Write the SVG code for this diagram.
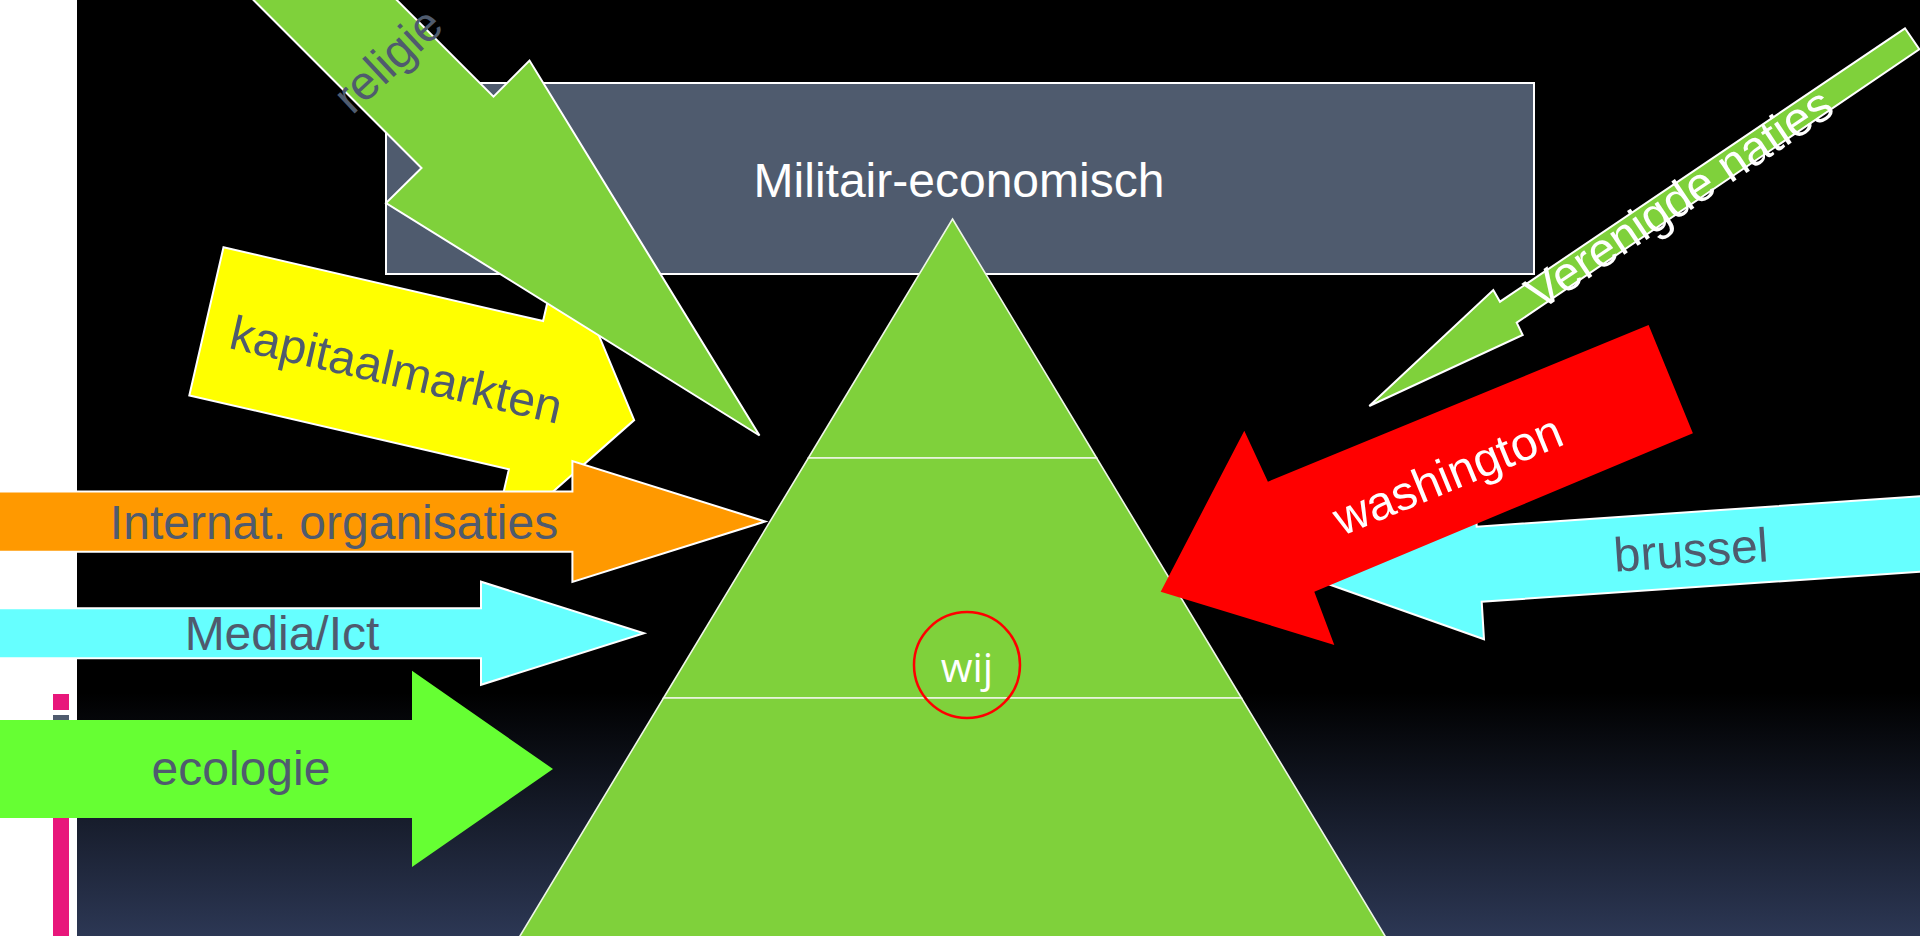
<svg xmlns="http://www.w3.org/2000/svg" width="1920" height="936" viewBox="0 0 1920 936">
  <defs>
    <linearGradient id="bg" x1="0" y1="0" x2="0" y2="936" gradientUnits="userSpaceOnUse">
      <stop offset="0" stop-color="#000000"/>
      <stop offset="0.74" stop-color="#000000"/>
      <stop offset="1" stop-color="#2c3754"/>
    </linearGradient>
    <style>
      .lbl { font-family: "Liberation Sans", Arial, sans-serif; font-size: 48px; text-anchor: middle; }
      .gray { fill: #4f5b6e; }
      .white { fill: #ffffff; }
      .edge { stroke: #ffffff; stroke-width: 2; stroke-linejoin: miter; }
      .pyr { fill: #7fd13b; stroke: #eef6e6; stroke-width: 1.6; }
    </style>
  </defs>

  <g id="background">
    <rect x="0" y="0" width="1920" height="936" fill="#ffffff"/>
    <rect x="77" y="0" width="1843" height="936" fill="url(#bg)"/>
    <rect x="53" y="694" width="16" height="16" fill="#e8177b"/>
    <rect x="53" y="715" width="16" height="50" fill="#4f5b6e"/>
    <rect x="53" y="770" width="16" height="166" fill="#e8177b"/>
  </g>

  <g id="militair">
    <rect x="386" y="83" width="1148" height="191" fill="#4f5b6e" class="edge"/>
    <text class="lbl white" x="959" y="197">Militair-economisch</text>
  </g>

  <g id="pyramid">
    <polygon class="pyr" points="952.5,219 1096.7,458 808.3,458"/>
    <polygon class="pyr" points="808.3,458 1096.7,458 1241.5,698 663.5,698"/>
    <polygon class="pyr" points="663.5,698 1241.5,698 1393.5,950 511.5,950"/>
  </g>

  <g id="wij">
    <circle cx="967" cy="665" r="53" fill="none" stroke="#ff0000" stroke-width="2.5"/>
    <text x="967" y="682" font-family="'Open Sans', 'Liberation Sans', sans-serif" font-size="41" text-anchor="middle" fill="#ffffff">wij</text>
  </g>

  <g id="connectors">
    <g id="kapitaalmarkten" transform="translate(223.5,247.3) rotate(13)">
      <polygon points="0,0 328,0 328,-79 439,76 328,231 328,152 0,152" fill="#ffff00" class="edge"/>
      <text class="lbl gray" x="196" y="97">kapitaalmarkten</text>
    </g>

    <g id="religie">
      <polygon points="203.5,-50 421.5,168 386,203 759.5,435.5 529.5,60.5 493.5,96.7 346.7,-50" fill="#7fd13b" class="edge"/>
      <text class="lbl gray" transform="translate(399,72) rotate(-43)" x="0" y="0">religie</text>
    </g>

    <g id="internat">
      <polygon points="-4,491.5 572.4,491.5 572.4,461 765.3,521.5 572.4,582 572.4,551.7 -4,551.7" fill="#ff9900" class="edge"/>
      <text class="lbl gray" x="334" y="539">Internat. organisaties</text>
    </g>

    <g id="media">
      <polygon points="-4,608.3 481,608.3 481,581.7 644,633.3 481,684.8 481,658.3 -4,658.3" fill="#66ffff" class="edge"/>
      <text class="lbl gray" x="282" y="650">Media/Ict</text>
    </g>

    <g id="ecologie">
      <polygon points="-4,720 412,720 412,670.7 553,769 412,867 412,818 -4,818" fill="#66ff33"/>
      <text class="lbl gray" x="241" y="785">ecologie</text>
    </g>

    <g id="brussel">
      <polygon points="1926,495.9 1476.7,526.7 1474.4,489.1 1305.4,576 1484,639.3 1481.7,601.7 1926,571.4" fill="#66ffff" class="edge"/>
      <text class="lbl gray" transform="translate(1692,566.5) rotate(-3.9)" x="0" y="0">brussel</text>
    </g>

    <g id="washington">
      <polygon points="1648.6,325 1267.9,481.7 1244.3,430.7 1160.7,591.7 1334.3,645 1314.3,591.7 1692.9,433.3" fill="#ff0000"/>
      <text class="lbl white" transform="translate(1454,490) rotate(-22.4)" x="0" y="0">washington</text>
    </g>

    <g id="verenigde">
      <polygon points="1905,28.3 1500,301.7 1493.3,290 1369.3,406 1522.7,335 1516.7,322.7 1919.3,49.3" fill="#7fd13b" class="edge"/>
      <text class="lbl white" transform="translate(1688,212) rotate(-33.8)" x="0" y="0">Verenigde naties</text>
    </g>
  </g>
</svg>
